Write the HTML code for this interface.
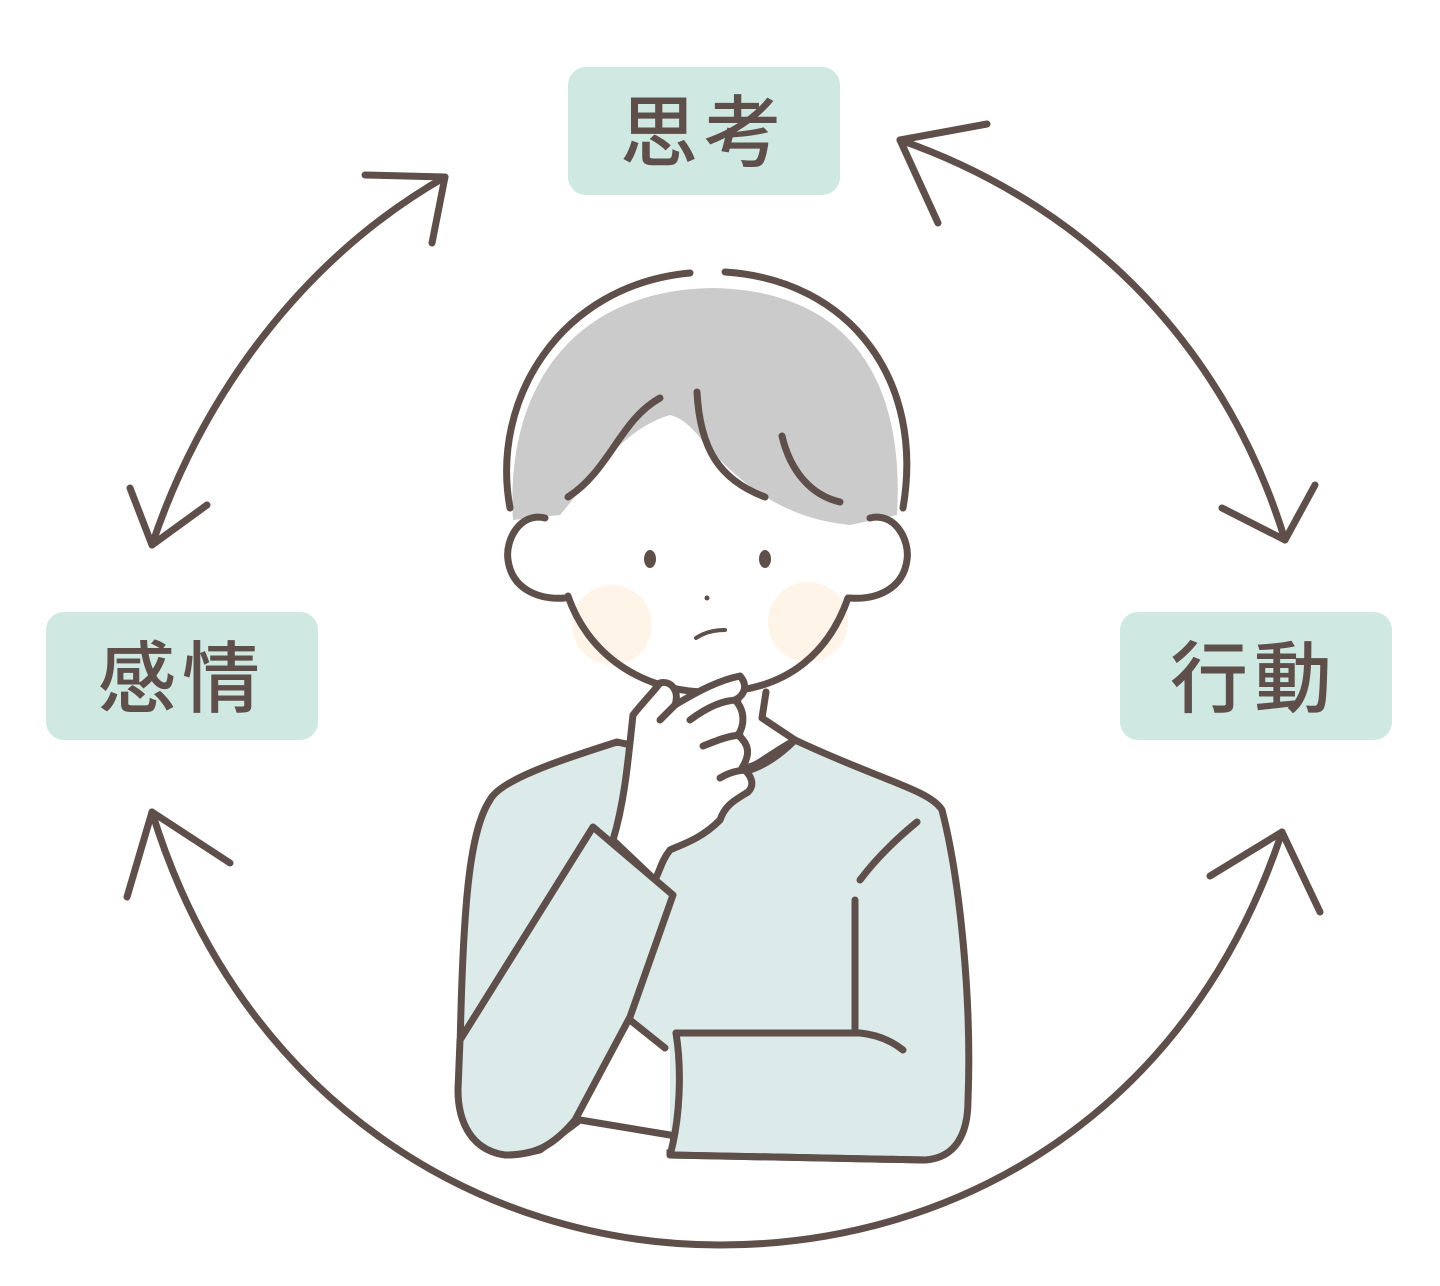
<!DOCTYPE html>
<html><head><meta charset="utf-8"><style>
html,body{margin:0;padding:0;background:#fff;}
svg{display:block}
text{font-family:"Liberation Sans","Noto Sans CJK JP",sans-serif;fill:#5e4f4b;font-weight:500}
</style></head><body>
<svg width="1440" height="1286" viewBox="0 0 1440 1286" xmlns="http://www.w3.org/2000/svg">
<g fill="#cfe8e1">
<rect x="568" y="67" width="272" height="128" rx="18"/>
<rect x="46" y="612" width="272" height="128" rx="18"/>
<rect x="1120" y="612" width="272" height="128" rx="18"/>
</g>
<text x="704" y="160" font-size="78" text-anchor="middle" letter-spacing="6">思考</text>
<text x="182" y="706" font-size="78" text-anchor="middle" letter-spacing="6">感情</text>
<text x="1254" y="706" font-size="78" text-anchor="middle" letter-spacing="6">行動</text>

<g fill="none" stroke="#5e4f4b" stroke-width="7" stroke-linecap="round" stroke-linejoin="round">
<path d="M152,545 C200,400 300,260 445,177"/>
<path d="M130,488 L152,545 L207,505"/>
<path d="M365,175 L445,177 L432,243"/>
<path d="M900,140 C1100,210 1230,360 1285,540"/>
<path d="M987,124 L900,140 L938,223"/>
<path d="M1315,485 L1285,540 L1222,508"/>
<path d="M152,812 C240,1100 480,1245 720,1245 C960,1245 1190,1110 1282,832"/>
<path d="M127,897 L152,812 L230,863"/>
<path d="M1210,876 L1282,832 L1320,912"/>
</g>

<g stroke="#5e4f4b" stroke-width="7" stroke-linecap="round" stroke-linejoin="round">
<path fill="#cbcbcb" stroke="none" d="M513,520 C505,380 580,290 712,288 C850,290 905,380 897,515 L850,525 C800,520 760,500 720,460 C700,440 690,420 670,415 C620,430 590,480 560,515 Z"/>
<path fill="none" d="M510,508 C490,400 560,285 690,273"/>
<path fill="none" d="M725,272 C850,280 925,380 903,508"/>
<path fill="none" d="M568,497 C610,470 620,420 660,398"/>
<path fill="none" d="M697,392 C700,450 720,480 765,497"/>
<path fill="none" d="M782,436 C790,470 810,495 840,502"/>
<path fill="#fff" d="M545,518 C520,512 505,540 508,560 C512,590 540,600 565,598"/>
<path fill="#fff" d="M870,518 C895,512 910,540 907,560 C903,590 875,600 850,598"/>
<circle cx="612" cy="625" r="40" fill="#fff4e7" stroke="none"/>
<circle cx="808" cy="622" r="40" fill="#fff4e7" stroke="none"/>
<path fill="none" d="M568,596 C590,660 650,695 718,692 C790,690 830,650 848,598"/>
<ellipse cx="650" cy="559" rx="6" ry="9" fill="#5e4f4b" stroke="none"/>
<ellipse cx="765" cy="559" rx="6" ry="9" fill="#5e4f4b" stroke="none"/>
<circle cx="707" cy="598" r="2.5" fill="#5e4f4b" stroke="none"/>
<path fill="none" stroke-width="4" d="M696,638 C705,632 715,630 725,630"/>
<path fill="#dceae9" d="M617,742 C560,760 500,780 490,800 C470,830 463,900 460,1050 L463,1110 C470,1150 500,1160 540,1150 L580,1120 L670,1140 L670,1155 L925,1160 C955,1158 968,1135 968,1100 C972,1000 960,880 942,810 C930,790 880,780 795,740 C780,755 765,765 750,770 Z"/>
<path fill="#fff" d="M766,692 L762,720 L795,740 C775,755 762,765 745,770 L720,700 Z" stroke="none"/>
<path fill="none" d="M766,692 L762,718 L795,740 C760,760 760,765 745,768"/>
<path fill="#fff" stroke="none" d="M580,1110 L630,1020 L670,1050 L670,1150 L580,1130 Z"/>
<path fill="none" d="M630,1020 L665,1048"/>
<path fill="none" d="M580,1120 L670,1135"/>
<path fill="none" d="M676,1033 L860,1033 C880,1035 893,1042 903,1050"/>
<path fill="none" d="M676,1033 C682,1070 680,1120 670,1155 L925,1160"/>
<path fill="none" d="M855,900 L855,1030"/>
<path fill="none" d="M860,880 C875,860 895,840 917,822"/>
<path fill="#fff" d="M613,840 C625,800 628,760 633,715 C645,700 655,690 660,683 C670,680 680,690 675,705 C700,690 720,680 740,676 C748,685 745,695 735,700 C745,710 745,725 738,735 C750,745 750,755 742,768 C752,775 755,785 748,792 C735,800 725,805 720,820 C700,840 680,845 670,850 C662,860 660,870 655,880 Z"/>
<path fill="none" d="M690,720 C710,705 725,700 738,700"/>
<path fill="none" d="M703,746 C718,740 728,736 740,735"/>
<path fill="none" d="M720,778 C730,772 740,770 748,770"/>
<path fill="none" d="M660,720 L675,705"/>
<path fill="#dceae9" d="M593,827 L673,895 L630,1017 L575,1120 C550,1150 530,1155 505,1155 C470,1150 458,1120 458,1090 L460,1040 Z"/>
</g>
</svg>
</body></html>
